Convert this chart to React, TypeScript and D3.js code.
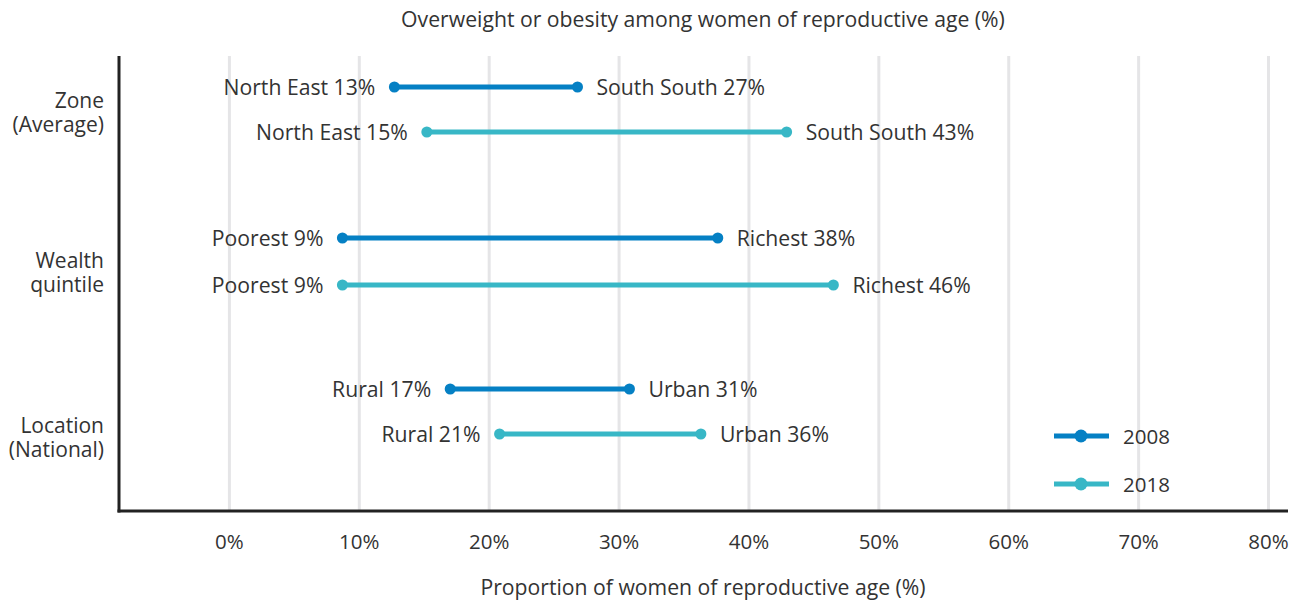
import React from "react";
import * as d3 from "d3";

const groups = ["Zone", "Wealth", "Location"];
const groupLabels = [["Zone", "(Average)"], ["Wealth", "quintile"], ["Location", "(National)"]];
const years = ["2008", "2018"];
const lowNames = [["North East", "North East"], ["Poorest", "Poorest"], ["Rural", "Rural"]];
const highNames = [["South South", "South South"], ["Richest", "Richest"], ["Urban", "Urban"]];
const lowValues = [[12.7, 15.2], [8.7, 8.7], [17.0, 20.8]];
const highValues = [[26.8, 42.9], [37.6, 46.5], [30.8, 36.3]];
const lowLabels = [["13%", "15%"], ["9%", "9%"], ["17%", "21%"]];
const highLabels = [["27%", "43%"], ["38%", "46%"], ["31%", "36%"]];
const xTicks = [0, 10, 20, 30, 40, 50, 60, 70, 80];
const colors = ["#0580c4", "#38b7c6"];

export default function App() {
  const W = 1303, H = 603;
  const x = d3.scaleLinear().domain([-8.5, 81.5]).range([119, 1288]);
  const yGroup = d3.scalePoint<string>().domain(groups).range([87, 389]);
  const rowGap = 45;
  const labelOffsets = [14, 23, 37];
  const font = "'Open Sans', 'Noto Sans', sans-serif";
  const txt = "#333";
  const fs = 21.2;
  return (
    <svg width={W} height={H} style={{ position: "absolute", left: 0, top: 0, fontFamily: font }}>
      <text x={703} y={27} textAnchor="middle" fontSize={fs} fill={txt}>
        Overweight or obesity among women of reproductive age (%)
      </text>
      {xTicks.map((t) => (
        <g key={t}>
          <line x1={x(t)} x2={x(t)} y1={56} y2={511} stroke="#e5e5e7" strokeWidth={3} />
          <text x={x(t)} y={549} textAnchor="middle" fontSize={20.5} fill={txt}>{`${t}%`}</text>
        </g>
      ))}
      <line x1={119} x2={119} y1={56} y2={512.5} stroke="#222" strokeWidth={3} />
      <line x1={117.5} x2={1288} y1={511} y2={511} stroke="#222" strokeWidth={3} />
      <text x={703} y={595} textAnchor="middle" fontSize={fs} fill={txt}>
        Proportion of women of reproductive age (%)
      </text>
      {groups.map((g, gi) => {
        const y0 = yGroup(g)!;
        return (
          <g key={g}>
            <text x={104} y={y0 + labelOffsets[gi] + 7} textAnchor="end" fontSize={21} fill={txt}>
              {groupLabels[gi].map((l, li) => (
                <tspan key={li} x={104} dy={li === 0 ? 0 : 23.5}>{l}</tspan>
              ))}
            </text>
            {years.map((yr, yi) => {
              const y = y0 + yi * rowGap + (gi === 1 && yi === 1 ? 2 : 0);
              const xl = x(lowValues[gi][yi]);
              const xh = x(highValues[gi][yi]);
              return (
                <g key={yr}>
                  <line x1={xl} x2={xh} y1={y} y2={y} stroke={colors[yi]} strokeWidth={5} />
                  <circle cx={xl} cy={y} r={5.5} fill={colors[yi]} />
                  <circle cx={xh} cy={y} r={5.5} fill={colors[yi]} />
                  <text x={xl - 19} y={y + 7.5} textAnchor="end" fontSize={fs} fill={txt}>
                    {`${lowNames[gi][yi]} ${lowLabels[gi][yi]}`}
                  </text>
                  <text x={xh + 19} y={y + 7.5} textAnchor="start" fontSize={fs} fill={txt}>
                    {`${highNames[gi][yi]} ${highLabels[gi][yi]}`}
                  </text>
                </g>
              );
            })}
          </g>
        );
      })}
      {years.map((yr, yi) => {
        const ly = 436 + yi * 48;
        return (
          <g key={yr}>
            <line x1={1054} x2={1109} y1={ly} y2={ly} stroke={colors[yi]} strokeWidth={5} />
            <circle cx={1081} cy={ly} r={6.5} fill={colors[yi]} />
            <text x={1123} y={ly + 7.5} fontSize={20.5} fill={txt}>{yr}</text>
          </g>
        );
      })}
    </svg>
  );
}
